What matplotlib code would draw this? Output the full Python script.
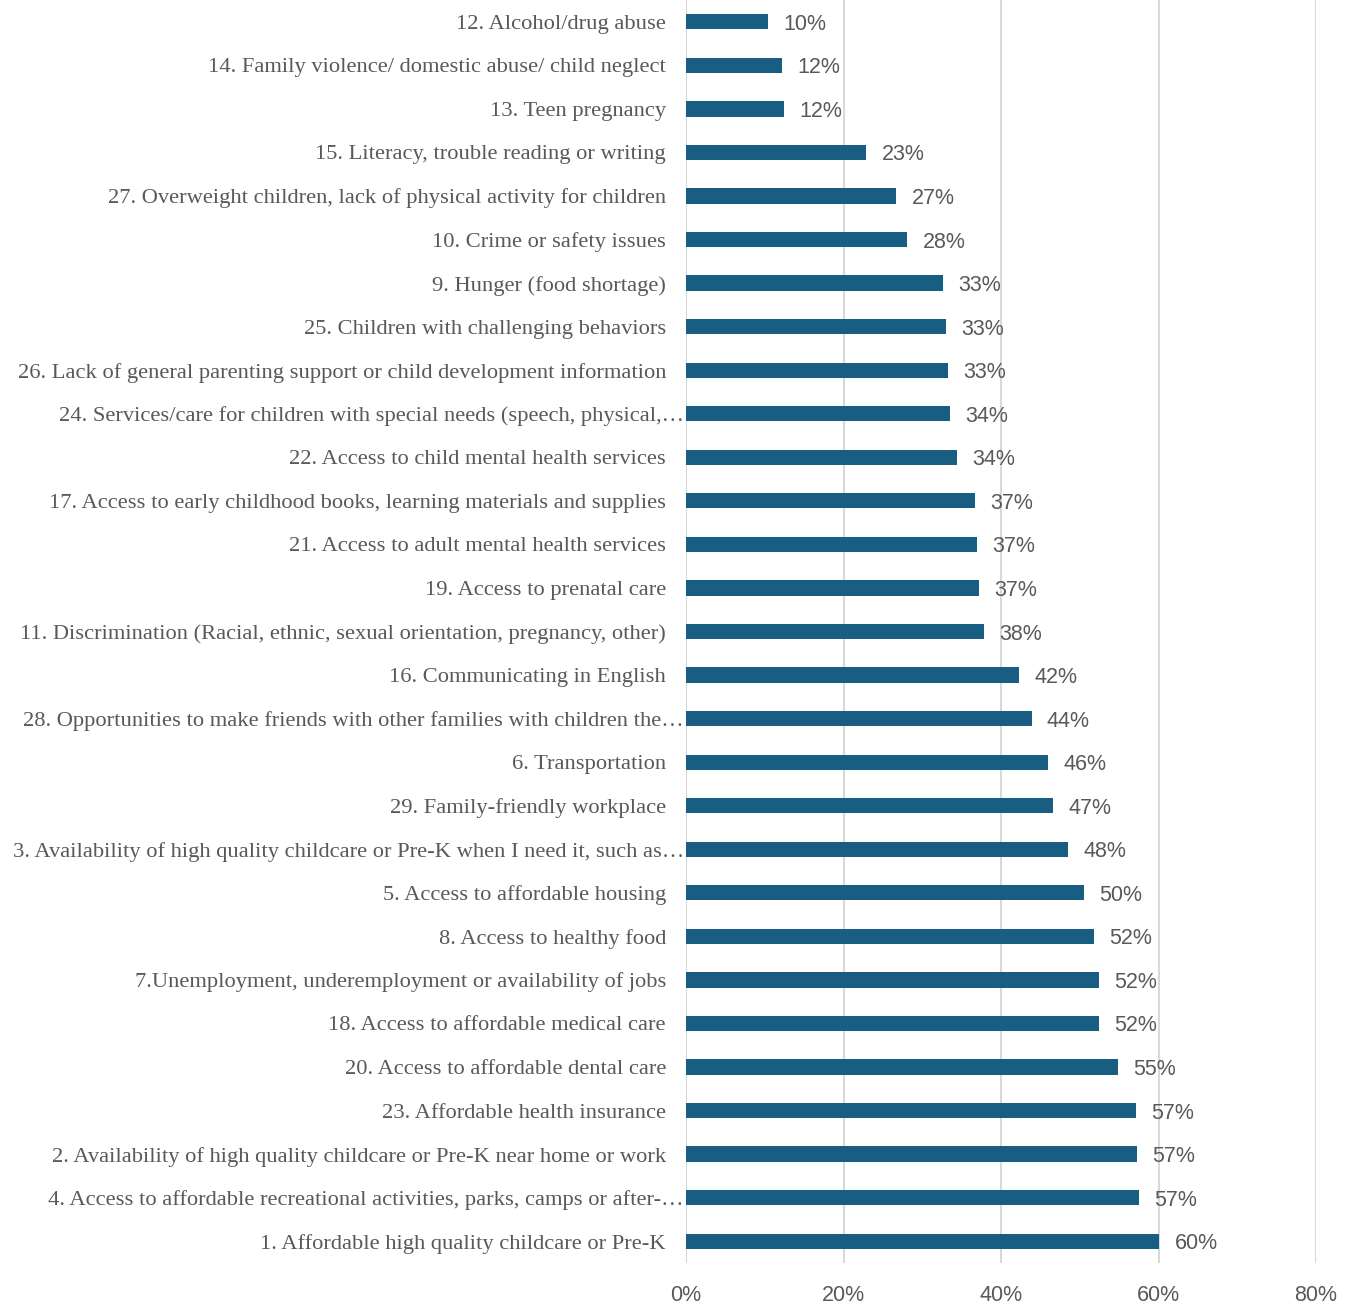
import matplotlib
matplotlib.use('Agg')
import matplotlib.pyplot as plt
from matplotlib.ticker import FuncFormatter

# Categories listed bottom to top
categories = [
    "1. Affordable high quality childcare or Pre-K",
    "4. Access to affordable recreational activities, parks, camps or after-\u2026",
    "2. Availability of high quality childcare or Pre-K near home or work",
    "23. Affordable health insurance",
    "20. Access to affordable dental care",
    "18. Access to affordable medical care",
    "7.Unemployment, underemployment or availability of jobs",
    "8. Access to healthy food",
    "5. Access to affordable housing",
    "3. Availability of high quality childcare or Pre-K when I need it, such as\u2026",
    "29. Family-friendly workplace",
    "6. Transportation",
    "28. Opportunities to make friends with other families with children the\u2026",
    "16. Communicating in English",
    "11. Discrimination (Racial, ethnic, sexual orientation, pregnancy, other)",
    "19. Access to prenatal care",
    "21. Access to adult mental health services",
    "17. Access to early childhood books, learning materials and supplies",
    "22. Access to child mental health services",
    "24. Services/care for children with special needs (speech, physical,\u2026",
    "26. Lack of general parenting support or child development information",
    "25. Children with challenging behaviors",
    "9. Hunger (food shortage)",
    "10. Crime or safety issues",
    "27. Overweight children, lack of physical activity for children",
    "15. Literacy, trouble reading or writing",
    "13. Teen pregnancy",
    "14. Family violence/ domestic abuse/ child neglect",
    "12. Alcohol/drug abuse",
]
values = [
    0.601, 0.575, 0.573, 0.571, 0.549, 0.524, 0.524, 0.518, 0.505, 0.485,
    0.466, 0.460, 0.439, 0.423, 0.378, 0.372, 0.370, 0.367, 0.344, 0.335,
    0.333, 0.330, 0.326, 0.281, 0.267, 0.229, 0.124, 0.122, 0.104,
]
x_ticks = [0, 0.2, 0.4, 0.6, 0.8]

bar_color = '#175e82'
text_color = '#595959'

fig = plt.figure(figsize=(13.56, 13.04), dpi=100)
ax = fig.add_axes([686 / 1356, 1 - 1263 / 1304, 630 / 1356, 1263 / 1304])

y = range(len(categories))
ax.barh(y, values, height=0.35, color=bar_color, zorder=3)

for yi, v in zip(y, values):
    ax.annotate(f"{v * 100:.0f}%", (v, yi), xytext=(11, 0), textcoords='offset points',
                va='center_baseline', ha='left', fontsize=15.5, color=text_color,
                family='Liberation Sans')

# category labels drawn by hand; truncated ones run right up to the axis
for yi, name in zip(y, categories):
    off = -1.5 if name.endswith('\u2026') else -14.4
    ax.annotate(name, (0, yi), xycoords=('axes fraction', 'data'),
                xytext=(off, 0), textcoords='offset points',
                ha='right', va='center_baseline', fontsize=16.2,
                color=text_color, family='Liberation Serif', annotation_clip=False)

ax.set_xlim(0, 0.8)
ax.set_ylim(-0.5, len(categories) - 0.5)
ax.set_xticks(x_ticks)
ax.xaxis.set_major_formatter(FuncFormatter(lambda v, p: f"{v * 100:.0f}%"))
ax.set_yticks([])

for lbl in ax.get_xticklabels():
    lbl.set_family('Liberation Sans')
    lbl.set_fontsize(15.5)
    lbl.set_color(text_color)

ax.tick_params(axis='both', length=0)
ax.tick_params(axis='x', pad=16)

ax.grid(axis='x', color='#d9d9d9', linewidth=1.5, zorder=0)
for s in ax.spines.values():
    s.set_visible(False)

fig.savefig('out.png', dpi=100)
